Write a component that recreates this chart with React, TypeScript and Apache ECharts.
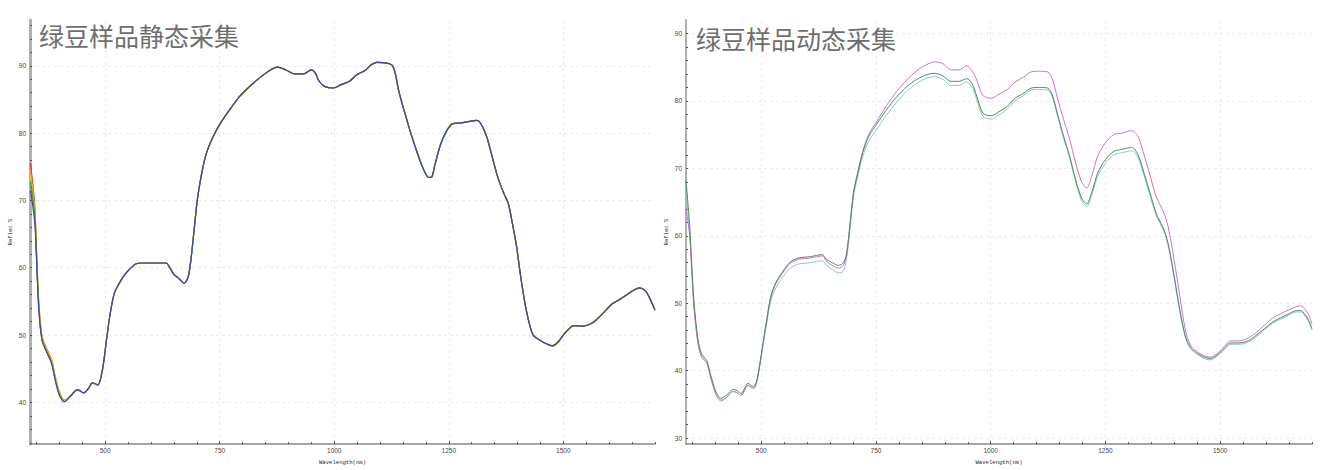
import React, { useEffect, useRef } from "react";
import * as echarts from "echarts";

// ---------- axis extents & tick labels ----------
const X_MIN = 336;
const X_MAX = 1700;
const xMajorTicks = [500, 750, 1000, 1250, 1500];
const xMinorTicks = [350, 400, 450, 500, 550, 600, 650, 700, 750, 800, 850, 900, 950, 1000, 1050, 1100, 1150, 1200, 1250, 1300, 1350, 1400, 1450, 1500, 1550, 1600, 1650, 1700];

const staticYMin = 33.8;
const staticYMax = 96.8;
const staticYMajor = [40, 50, 60, 70, 80, 90];
const staticYMinor = [34, 36, 38, 40, 42, 44, 46, 48, 50, 52, 54, 56, 58, 60, 62, 64, 66, 68, 70, 72, 74, 76, 78, 80, 82, 84, 86, 88, 90, 92, 94, 96];

const dynYMin = 29.1;
const dynYMax = 92;
const dynYMajor = [30, 40, 50, 60, 70, 80, 90];
const dynYMinor = [30, 32, 34, 36, 38, 40, 42, 44, 46, 48, 50, 52, 54, 56, 58, 60, 62, 64, 66, 68, 70, 72, 74, 76, 78, 80, 82, 84, 86, 88, 90];

const titleStatic = "绿豆样品静态采集";
const titleDynamic = "绿豆样品动态采集";
const xName = "Wavelength(nm)";
const yName = "Reflec %";

// ---------- static acquisition (left) ----------
const staticWavelengths = [337, 346, 350, 355, 362, 372, 383, 391, 400, 411,
  424, 440, 453, 464, 472, 484, 494, 503, 511, 520, 530, 542, 555, 568, 581, 607, 633, 642, 650, 661,
  672, 681, 687, 694, 701, 709, 720, 733, 750, 772, 794, 815, 837, 859, 876, 894, 913, 933, 950, 959,
  967, 980, 998, 1015, 1033, 1050, 1067, 1080, 1093, 1115, 1126, 1133, 1141, 1154, 1167, 1180, 1193, 1206, 1213, 1219,
  1232, 1245, 1259, 1276, 1293, 1311, 1319, 1332, 1345, 1358, 1371, 1380, 1389, 1398, 1406, 1415, 1424, 1434, 1450, 1463,
  1476, 1489, 1506, 1523, 1541, 1558, 1571, 1589, 1606, 1623, 1641, 1654, 1667, 1680, 1689, 1700];

const staticHeadRed = [75.5, 69.5, 63.0, 55.0, 49.8, 48.0, 46.3, 43.7, 41.5, 40.3];
const staticHeadOrange = [74.5, 69.0, 62.8, 54.8, 49.8, 48.0, 46.4, 43.9, 41.6, 40.3];
const staticHeadYellow = [73.5, 68.5, 62.3, 54.5, 49.6, 47.8, 46.1, 43.6, 41.4, 40.2];
const staticHeadGreen = [72.8, 68.0, 62.0, 54.3, 49.4, 47.6, 45.9, 43.4, 41.2, 40.1];
const staticHeadBlue = [71.5, 67.0, 61.5, 54.0, 49.3, 47.5, 45.8, 43.3, 41.1, 40.1];

const staticTail = [40.9, 41.9, 41.4, 42.1, 42.9, 42.6, 44.8, 49.3, 53.2, 56.2,
  57.6, 58.9, 59.9, 60.6, 60.7, 60.7, 60.7, 59.9, 59.0, 58.4,
  57.7, 58.6, 61.1, 65.5, 70.0, 73.4, 76.8, 79.1, 81.3, 83.5,
  85.5, 86.9, 88.2, 89.3, 89.8, 89.4, 88.8, 88.8, 89.4, 88.9,
  87.7, 86.9, 86.7, 87.2, 87.7, 88.7, 89.3, 90.1, 90.5, 90.4,
  90.1, 88.9, 86.2, 83.0, 80.0, 77.3, 74.9, 73.4, 73.5, 75.1,
  78.3, 80.3, 81.4, 81.5, 81.7, 81.9, 81.5, 79.6, 76.4, 73.2,
  70.9, 69.5, 66.5, 63.1, 59.1, 55.2, 52.2, 50.0, 49.2, 48.7,
  48.4, 49.0, 50.5, 51.4, 51.3, 51.6, 52.2, 53.4, 54.6, 55.3,
  56.1, 56.7, 57.0, 56.5, 55.4, 53.7];

// ---------- dynamic acquisition (right) ----------
const dynWavelengths = [336, 344, 353, 362, 370, 381, 390, 401, 412, 423,
  439, 448, 456, 471, 483, 491, 502, 511, 521, 532,
  546, 563, 581, 607, 633, 642, 655, 668, 679, 686,
  693, 701, 710, 721, 734, 751, 773, 795, 817, 839,
  861, 878, 896, 913, 931, 947, 959, 970, 983, 1001,
  1018, 1036, 1053, 1071, 1088, 1106, 1124, 1134, 1145, 1159,
  1172, 1185, 1198, 1209, 1220, 1233, 1250, 1268, 1285, 1307,
  1321, 1334, 1347, 1360, 1377, 1386, 1397, 1408, 1417, 1426,
  1437, 1452, 1465, 1478, 1491, 1509, 1522, 1539, 1557, 1574,
  1596, 1614, 1631, 1649, 1666, 1675, 1684, 1693, 1700];

const dynGreen = [68.2, 61.5, 50.6, 44.7, 42.5, 41.5, 39.3, 36.9, 35.9, 36.3,
  37.2, 37.0, 36.6, 38.1, 37.6, 38.8, 43.3, 47.2, 51.1, 53.1,
  54.6, 56.1, 56.7, 56.9, 57.2, 56.5, 56.0, 55.6, 56.0, 57.5,
  61.5, 66.4, 69.3, 72.3, 74.7, 76.5, 78.7, 80.6, 82.1, 83.2,
  83.9, 84.1, 83.7, 82.9, 82.9, 83.3, 82.6, 80.6, 78.2, 77.8,
  78.4, 79.2, 80.4, 81.1, 81.9, 82.0, 81.9, 80.9, 78.2, 74.7,
  71.8, 68.3, 65.6, 64.7, 66.4, 69.3, 71.3, 72.5, 72.8, 73.1,
  72.0, 69.3, 66.4, 63.4, 61.0, 59.0, 55.1, 50.6, 47.2, 44.7,
  43.3, 42.5, 42.0, 41.8, 42.2, 43.3, 44.1, 44.1, 44.3, 45.0,
  46.2, 47.2, 47.8, 48.4, 48.9, 48.9, 48.4, 47.4, 46.2];

const dynMagenta = [64.0, 60.0, 49.5, 44.0, 42.0, 41.2, 38.9, 36.5, 35.5, 35.9,
  36.9, 36.7, 36.3, 37.8, 37.4, 38.6, 43.1, 47.0, 50.9, 52.9,
  54.4, 55.9, 56.5, 56.7, 57.0, 56.2, 55.6, 55.2, 55.6, 57.2,
  61.3, 66.3, 69.3, 72.5, 75.0, 76.9, 79.3, 81.4, 83.1, 84.5,
  85.4, 85.8, 85.5, 84.6, 84.6, 85.2, 84.5, 83.0, 80.8, 80.4,
  81.0, 81.7, 82.8, 83.5, 84.3, 84.4, 84.3, 83.3, 80.5, 77.2,
  74.3, 70.8, 68.0, 67.1, 68.8, 71.8, 73.8, 75.0, 75.2, 75.6,
  74.7, 72.0, 69.0, 65.9, 63.4, 61.5, 57.5, 52.8, 48.8, 45.5,
  43.6, 42.7, 42.2, 42.0, 42.4, 43.6, 44.4, 44.4, 44.7, 45.4,
  46.7, 47.8, 48.4, 49.0, 49.5, 49.6, 49.2, 48.2, 46.9];

const dynTeal = [66.5, 60.5, 50.0, 44.3, 42.2, 41.2, 39.0, 36.7, 35.7, 36.0,
  36.9, 36.7, 36.3, 37.8, 37.3, 38.5, 43.0, 46.7, 50.4, 52.3,
  53.8, 55.2, 55.8, 56.0, 56.3, 55.6, 55.0, 54.5, 54.8, 56.6,
  60.8, 65.8, 68.7, 71.7, 74.0, 75.7, 77.9, 79.8, 81.4, 82.6,
  83.4, 83.6, 83.2, 82.3, 82.3, 82.8, 82.1, 80.1, 77.7, 77.3,
  77.9, 78.8, 80.0, 80.8, 81.6, 81.7, 81.6, 80.6, 77.9, 74.4,
  71.5, 68.0, 65.2, 64.3, 66.0, 68.8, 70.8, 72.0, 72.3, 72.6,
  71.6, 68.9, 66.0, 63.1, 60.7, 58.7, 54.8, 50.3, 47.0, 44.5,
  43.1, 42.3, 41.8, 41.6, 42.0, 43.1, 43.9, 43.9, 44.1, 44.8,
  46.0, 47.0, 47.6, 48.2, 48.7, 48.7, 48.2, 47.2, 46.0];

const pairs = (xs: number[], ys: number[]) => xs.map((x, i) => [x, ys[i]]);

const labelStyle = { fontSize: 6.5, color: "#444", fontFamily: "Liberation Sans", formatter: (v: number) => String(v) };
const nameStyle = { fontSize: 5.6, color: "#222", fontFamily: "Liberation Mono" };
const gridLine = { show: true, lineStyle: { color: "#ebebeb", type: [3, 3] as any, width: 1 } };

function xAxes(gridIndex: number) {
  return [
    {
      type: "value", gridIndex, min: X_MIN, max: X_MAX, position: "bottom",
      axisLine: { show: true, lineStyle: { color: "#8a8a8a", width: 1.5 } },
      axisTick: { show: true, customValues: xMinorTicks, length: 2, inside: true, lineStyle: { color: "#555" } },
      axisLabel: { show: true, customValues: xMajorTicks, margin: 3, ...labelStyle },
      splitLine: { show: false },
      name: xName, nameLocation: "middle", nameGap: 13, nameTextStyle: nameStyle,
    },
    {
      type: "value", gridIndex, min: X_MIN, max: X_MAX, position: "bottom",
      axisLine: { show: false },
      axisTick: { show: true, customValues: xMajorTicks, length: 3, inside: true, lineStyle: { color: "#555" } },
      axisLabel: { show: false },
      splitLine: gridLine,
    },
  ];
}

function yAxes(gridIndex: number, min: number, max: number, major: number[], minor: number[], axisWidth: number) {
  return [
    {
      type: "value", gridIndex, min, max, position: "left",
      axisLine: { show: true, lineStyle: { color: "#b0b0b0", width: axisWidth } },
      axisTick: { show: true, customValues: minor, length: 2, inside: true, lineStyle: { color: "#555" } },
      axisLabel: { show: true, customValues: major, margin: 4, ...labelStyle },
      splitLine: { show: false },
      name: yName, nameLocation: "middle", nameGap: 17, nameTextStyle: nameStyle,
    },
    {
      type: "value", gridIndex, min, max, position: "left",
      axisLine: { show: false },
      axisTick: { show: false, customValues: major },
      axisLabel: { show: false },
      splitLine: gridLine,
    },
  ];
}

function lineSeries(name: string, data: number[][], color: string, width: number, xi: number, yi: number) {
  return {
    name, type: "line", data, xAxisIndex: xi, yAxisIndex: yi,
    showSymbol: false, symbol: "none", smooth: 0.3,
    lineStyle: { color, width }, silent: true, z: 3,
  };
}

export default function App() {
  const ref = useRef<HTMLDivElement>(null);
  useEffect(() => {
    if (!ref.current) return;
    const chart = echarts.init(ref.current, undefined, { renderer: "svg" });
    const titleStyle = { fontSize: 25, color: "#6e6e6e", fontWeight: "normal", fontFamily: "Noto Sans CJK SC" };
    chart.setOption({
      animation: false,
      backgroundColor: "#ffffff",
      title: [
        { text: titleStatic, left: 39, top: 22, padding: 0, textStyle: titleStyle },
        { text: titleDynamic, left: 696, top: 25, padding: 0, textStyle: titleStyle },
      ],
      grid: [
        { left: 30, right: 665, top: 20, bottom: 24, containLabel: false },
        { left: 686, right: 8, top: 20, bottom: 24, containLabel: false },
      ],
      xAxis: [...xAxes(0), ...xAxes(1)],
      yAxis: [
        ...yAxes(0, staticYMin, staticYMax, staticYMajor, staticYMinor, 3),
        ...yAxes(1, dynYMin, dynYMax, dynYMajor, dynYMinor, 2),
      ],
      series: [
        lineSeries("red", pairs(staticWavelengths, [...staticHeadRed, ...staticTail]), "#e02424", 1.2, 0, 0),
        lineSeries("orange", pairs(staticWavelengths, [...staticHeadOrange, ...staticTail]), "#f39a1c", 1.2, 0, 0),
        lineSeries("yellow", pairs(staticWavelengths, [...staticHeadYellow, ...staticTail]), "#cfcf1a", 1.2, 0, 0),
        lineSeries("green", pairs(staticWavelengths, [...staticHeadGreen, ...staticTail]), "#2ca02c", 1.2, 0, 0),
        lineSeries("blue", pairs(staticWavelengths, [...staticHeadBlue, ...staticTail]), "#4545b0", 1.2, 0, 0),
        lineSeries("teal", pairs(dynWavelengths, dynTeal), "#8cc7c4", 1, 2, 2),
        lineSeries("magenta", pairs(dynWavelengths, dynMagenta), "#c873cc", 1, 2, 2),
        lineSeries("darkgreen", pairs(dynWavelengths, dynGreen), "#4e8a5c", 1, 2, 2),
      ],
    });
    return () => chart.dispose();
  }, []);
  return (
    <div
      ref={ref}
      style={{ position: "fixed", left: 0, top: 0, width: 1320, height: 470, background: "#fff" }}
    />
  );
}
